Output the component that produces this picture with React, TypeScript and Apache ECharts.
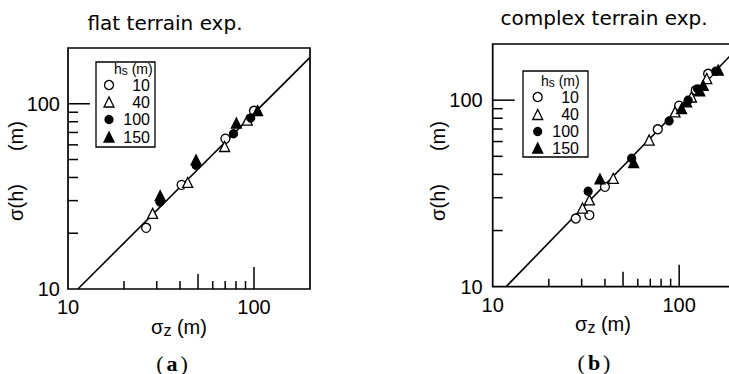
import React, { useEffect, useRef } from 'react';
import * as echarts from 'echarts';

// ---- data ----
const hsLevels = ['10', '40', '100', '150'];
const axisMin = 10;
const axisMax = 200;
const xTickValues = [20, 30, 40, 50, 60, 70, 80, 90, 100];
const yTickValues = [20, 30, 40, 50, 60, 70, 80, 90, 100];

// (a) flat terrain exp. : [sigma_z, sigma(h)]
const flatHs10 = [[26.3, 21.4], [40.8, 36.5], [70.2, 64.8], [100, 91.6]];
const flatHs40 = [[28.5, 25.6], [44, 37.6], [69.5, 58.8], [92, 81.5]];
const flatHs100 = [[31.2, 29.5], [48.8, 46.6], [77.6, 68.9], [96, 83.8]];
const flatHs150 = [[31.3, 31.9], [48.8, 49.8], [80.4, 78.7], [104.5, 91.8]];
const flatFit = [[11.3, 10], [200, 178]];

// (b) complex terrain exp.
const complexHs10 = [[27.9, 23.2], [33, 24.2], [40, 34.3], [76.8, 69.8], [100, 93.5], [122.8, 113], [143, 138.5]];
const complexHs40 = [[30.3, 26.4], [33, 29.2], [44.3, 38.1], [69, 61.1], [95, 86.5], [116.4, 104], [140.5, 130.6]];
const complexHs100 = [[32.5, 32.5], [55.6, 48.8], [88.3, 77.4], [111.7, 100], [125.5, 115], [157, 143]];
const complexHs150 = [[37.6, 37.8], [57, 46.2], [103, 90.2], [109.6, 98], [129, 112], [134.5, 120], [162, 145]];
const complexFit = [[11.8, 10], [200, 184.6]];

const flatSets = [flatHs10, flatHs40, flatHs100, flatHs150];
const complexSets = [complexHs10, complexHs40, complexHs100, complexHs150];

// ---- styles ----
const SANS = '"Liberation Sans", Arial, sans-serif';
const markers = [
  { symbol: 'circle', size: 9, fill: '#fff' },
  { symbol: 'triangle', size: 10, fill: '#fff' },
  { symbol: 'circle', size: 8, fill: '#000' },
  { symbol: 'triangle', size: 10, fill: '#000' },
];

const isDecade = (v: number) => Math.abs(Math.log10(v) - Math.round(Math.log10(v))) < 1e-6;

function makeAxes(gi: number, labelMargin: number) {
  const common = {
    type: 'log',
    logBase: 10,
    min: axisMin,
    max: axisMax,
    gridIndex: gi,
    axisLine: { show: false },
    axisTick: { show: false },
    splitLine: { show: false },
    minorTick: { show: false },
    minorSplitLine: { show: false },
    axisLabel: {
      fontSize: 20,
      fontFamily: SANS,
      color: '#000',
      margin: labelMargin,
      showMaxLabel: false,
      formatter: (v: number) => (isDecade(v) ? String(Math.round(v)) : ''),
    },
  };
  return {
    x: { ...common, axisLabel: { ...common.axisLabel, margin: 8 } },
    y: { ...common },
  };
}

function tickSeries(gi: number, dir: 'x' | 'y', values: number[]) {
  return {
    type: 'custom',
    xAxisIndex: gi,
    yAxisIndex: gi,
    silent: true,
    clip: false,
    z: 5,
    data: values.map((v) => (dir === 'x' ? [v, axisMin] : [axisMin, v])),
    encode: { x: 0, y: 1 },
    renderItem: (_p: any, api: any) => {
      const xv = api.value(0);
      const yv = api.value(1);
      const pt = api.coord([xv, yv]);
      const v = dir === 'x' ? xv : yv;
      let len: number;
      if (dir === 'x') len = Math.abs(v - 100) < 1e-6 ? 22 : Math.abs(v - 50) < 1e-6 ? 15 : 8;
      else len = Math.abs(v - 100) < 1e-6 ? 22 : 10;
      const shape =
        dir === 'x'
          ? { x1: pt[0], y1: pt[1], x2: pt[0], y2: pt[1] - len }
          : { x1: pt[0], y1: pt[1], x2: pt[0] + len, y2: pt[1] };
      return { type: 'line', shape, style: { stroke: '#000', lineWidth: 1.5 } };
    },
  };
}

function scatterSeries(gi: number, sets: number[][][]) {
  return sets.map((d, i) => ({
    type: 'scatter',
    name: hsLevels[i],
    xAxisIndex: gi,
    yAxisIndex: gi,
    data: d,
    symbol: markers[i].symbol,
    symbolSize: markers[i].size,
    z: 10,
    itemStyle: { color: markers[i].fill, borderColor: '#000', borderWidth: 1.3, opacity: 1 },
  }));
}

function fitSeries(gi: number, d: number[][]) {
  return {
    type: 'line',
    xAxisIndex: gi,
    yAxisIndex: gi,
    data: d,
    showSymbol: false,
    symbol: 'none',
    z: 3,
    lineStyle: { color: '#000', width: 1.6 },
    silent: true,
  };
}

function legendGraphic(
  box: { x: number; y: number; w: number; h: number },
  headerX: number,
  headerY: number,
  symX: number,
  rowYs: number[],
  textRight: number
) {
  const children: any[] = [
    { type: 'rect', shape: { x: box.x, y: box.y, width: box.w, height: box.h }, style: { fill: '#fff', stroke: '#000', lineWidth: 1.3 } },
    {
      type: 'text',
      x: headerX,
      y: headerY,
      style: {
        text: '{h|h}{s|s}{h| (m)}',
        align: 'left',
        verticalAlign: 'middle',
        fill: '#000',
        rich: {
          h: { fontSize: 14, lineHeight: 13, fontFamily: SANS, fill: '#000' },
          s: { fontSize: 12, lineHeight: 10, fontFamily: SANS, fill: '#000', padding: [4, 0, 0, 0] },
        },
      },
    },
  ];
  hsLevels.forEach((lab, i) => {
    const m = markers[i];
    const cy = rowYs[i];
    const st = { fill: m.fill, stroke: '#000', lineWidth: 1.3 };
    if (m.symbol === 'circle') {
      children.push({ type: 'circle', shape: { cx: symX, cy, r: m.size / 2 }, style: st });
    } else {
      const s = m.size;
      children.push({
        type: 'polygon',
        shape: { points: [[symX, cy - s / 2], [symX - s / 2, cy + s / 2], [symX + s / 2, cy + s / 2]] },
        style: st,
      });
    }
    children.push({
      type: 'text',
      x: textRight,
      y: cy,
      style: { text: lab, fontSize: 16, lineHeight: 14, fontFamily: SANS, fill: '#000', align: 'right', verticalAlign: 'middle' },
    });
  });
  return { type: 'group', z: 100, children };
}

function xName(x: number, y: number) {
  return {
    type: 'text',
    x,
    y,
    style: {
      text: '{g|σ}{s|z}{g| (m)}',
      align: 'center',
      verticalAlign: 'middle',
      fill: '#000',
      rich: {
        g: { fontSize: 20, fontFamily: SANS, fill: '#000' },
        s: { fontSize: 16, fontFamily: SANS, fill: '#000', padding: [6, 0, 0, 0] },
      },
    },
  };
}

function yName(x: number, y: number) {
  return {
    type: 'text',
    x,
    y,
    rotation: Math.PI / 2,
    style: {
      text: '{g|σ(h)}{sp| }{g|(m)}',
      align: 'center',
      verticalAlign: 'middle',
      fill: '#000',
      rich: {
        g: { fontSize: 20, fontFamily: SANS, fill: '#000' },
        sp: { fontSize: 20, width: 33 },
      },
    },
  };
}

function caption(x: number, y: number, letter: string) {
  return {
    type: 'text',
    x,
    y,
    style: {
      text: `{p|(}{l|${letter}}{p|)}`,
      align: 'center',
      verticalAlign: 'middle',
      fill: '#000',
      rich: {
        p: { fontSize: 22, fontFamily: '"Liberation Serif", serif', fill: '#000' },
        l: { fontSize: 22, fontFamily: '"Liberation Serif", serif', fontWeight: 'bold', fill: '#000', padding: [0, 3, 0, 3] },
      },
    },
  };
}

function title(x: number, y: number, text: string) {
  return {
    type: 'text',
    x,
    y,
    style: { text, fontSize: 20, fontFamily: '"DejaVu Sans", sans-serif', fill: '#000', align: 'center', verticalAlign: 'middle' },
  };
}

export default function App() {
  const ref = useRef<HTMLDivElement>(null);
  useEffect(() => {
    if (!ref.current) return;
    const chart = echarts.init(ref.current, undefined, { renderer: 'svg' });
    const a = makeAxes(0, 8);
    const b = makeAxes(1, 10);
    chart.setOption({
      animation: false,
      backgroundColor: '#fff',
      grid: [
        { left: 68, top: 48, width: 242, height: 241, show: true, borderColor: '#000', borderWidth: 1.7, backgroundColor: 'transparent' },
        { left: 492.7, top: 44, width: 242.6, height: 242.7, show: true, borderColor: '#000', borderWidth: 1.7, backgroundColor: 'transparent' },
      ],
      xAxis: [a.x, b.x],
      yAxis: [a.y, b.y],
      series: [
        fitSeries(0, flatFit),
        fitSeries(1, complexFit),
        tickSeries(0, 'x', xTickValues),
        tickSeries(0, 'y', yTickValues),
        tickSeries(1, 'x', xTickValues),
        tickSeries(1, 'y', yTickValues),
        ...scatterSeries(0, flatSets),
        ...scatterSeries(1, complexSets),
      ],
      graphic: [
        title(165, 23, 'flat terrain exp.'),
        title(604, 18, 'complex terrain exp.'),
        xName(179, 327),
        xName(603, 324),
        yName(16, 171),
        yName(438, 171),
        caption(172, 363, 'a'),
        caption(594, 362, 'b'),
        legendGraphic({ x: 96, y: 62, w: 59, h: 85 }, 114, 69, 109, [85, 102, 119.5, 137], 150),
        legendGraphic({ x: 523, y: 71, w: 65, h: 86 }, 541, 80.5, 537.7, [97, 114.5, 131.5, 148], 579),
      ],
    });
    return () => chart.dispose();
  }, []);
  return (
    <div
      ref={ref}
      style={{ position: 'fixed', left: 0, top: 0, width: 745, height: 374, background: '#fff' }}
    />
  );
}
